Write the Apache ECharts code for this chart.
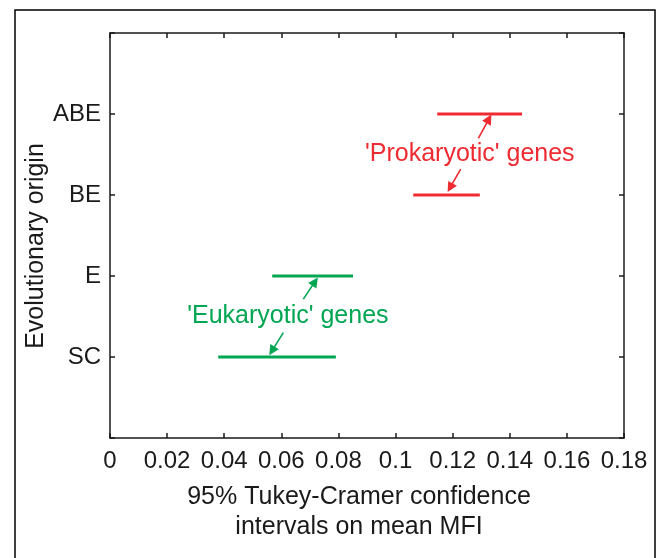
<!DOCTYPE html>
<html>
<head>
<meta charset="utf-8">
<script src="https://cdn.jsdelivr.net/npm/echarts@6/dist/echarts.min.js"></script>
<style>
html,body{margin:0;padding:0;background:#fff;}
#chart{width:657px;height:558px;}
</style>
</head>
<body>
<div id="chart"></div>
<script>
// ---- data ----
const categories = ['SC', 'E', 'BE', 'ABE'];           // y positions 1..4
const lowerCI    = [0.0379, 0.0568, 0.1062, 0.1146];
const upperCI    = [0.0791, 0.0851, 0.1295, 0.1443];
const groupOf    = ['euk', 'euk', 'pro', 'pro'];
const xTickLabels = ['0','0.02','0.04','0.06','0.08','0.1','0.12','0.14','0.16','0.18'];
const annotationText = { pro: "'Prokaryotic' genes", euk: "'Eukaryotic' genes" };
// annotation anchors (data units)
const annotationAt = { pro: [0.1260, 3.51], euk: [0.0623, 1.51] };
// arrows [fromX, fromY, toX, toY] in data units
const arrows = {
  pro: [[0.1290, 3.70, 0.1327, 3.94], [0.1228, 3.32, 0.1191, 3.09]],
  euk: [[0.0677, 1.715, 0.0718, 1.93], [0.0607, 1.30, 0.0567, 1.075]]
};
const xTitle = ['95% Tukey-Cramer confidence', 'intervals on mean MFI'];
const yTitle = 'Evolutionary origin';

const colors = { pro: '#ED2B30', euk: '#00A651' };
const axisColor = '#1a1a1a';
const FONT = '"Liberation Sans", Arial, Helvetica, sans-serif';

const chart = echarts.init(document.getElementById('chart'), null, { renderer: 'canvas' });

const series = categories.map((c, i) => {
  const g = groupOf[i];
  const s = {
    type: 'line',
    name: c,
    data: [[lowerCI[i], i + 1], [upperCI[i], i + 1]],
    showSymbol: false,
    symbol: 'none',
    lineStyle: { color: colors[g], width: 3 },
    itemStyle: { color: colors[g] },
    silent: true,
    z: 3
  };
  if (groupOf.indexOf(g) === i) {
    s.markLine = {
      silent: true,
      symbol: ['none', 'triangle'],
      symbolSize: 10,
      label: { show: false },
      itemStyle: { color: colors[g] },
      lineStyle: { color: colors[g], width: 1.6, type: 'solid' },
      data: arrows[g].map(a => [{ coord: [a[0], a[1]] }, { coord: [a[2], a[3]] }])
    };
  }
  return s;
});

const tickCommon = { show: true, inside: true, length: 5, lineStyle: { color: axisColor, width: 1.5 } };
const lineCommon = { show: true, onZero: false, lineStyle: { color: axisColor, width: 1.5 } };

chart.setOption({
  animation: false,
  backgroundColor: '#fff',
  grid: { left: 110, right: 33, top: 33, bottom: 120, containLabel: false },
  xAxis: [
    {
      type: 'value', min: 0, max: 0.18, interval: 0.02, position: 'bottom',
      axisLine: lineCommon, axisTick: tickCommon, splitLine: { show: false },
      axisLabel: {
        show: true, margin: 11, fontSize: 24, color: axisColor, fontFamily: FONT,
        formatter: v => xTickLabels[Math.round(v / 0.02)]
      }
    },
    {
      type: 'value', min: 0, max: 0.18, interval: 0.02, position: 'top',
      axisLine: lineCommon, axisTick: tickCommon, splitLine: { show: false },
      axisLabel: { show: false }
    }
  ],
  yAxis: [
    {
      type: 'value', min: 0, max: 5, interval: 1, position: 'left',
      axisLine: lineCommon, axisTick: tickCommon, splitLine: { show: false },
      axisLabel: {
        show: true, margin: 9, fontSize: 24, color: axisColor, fontFamily: FONT,
        formatter: v => categories[v - 1] || ''
      }
    },
    {
      type: 'value', min: 0, max: 5, interval: 1, position: 'right',
      axisLine: lineCommon, axisTick: tickCommon, splitLine: { show: false },
      axisLabel: { show: false }
    }
  ],
  series: series
});

const graphics = [];
graphics.push({
  type: 'rect', silent: true, z: 0,
  shape: { x: 15, y: 10, width: 640, height: 700 },
  style: { fill: 'none', stroke: '#000', lineWidth: 1.5 }
});
Object.keys(annotationText).forEach(g => {
  const p = chart.convertToPixel({ xAxisIndex: 0, yAxisIndex: 0 }, annotationAt[g]);
  graphics.push({
    type: 'text', x: p[0], y: p[1], silent: true, z: 10,
    style: { text: annotationText[g], fill: colors[g], font: '25px ' + FONT, align: 'center', verticalAlign: 'middle' }
  });
});
xTitle.forEach((t, k) => {
  graphics.push({
    type: 'text', x: 359, y: 497 + 30 * k, silent: true,
    style: { text: t, fill: axisColor, font: '25px ' + FONT, align: 'center', verticalAlign: 'middle' }
  });
});
graphics.push({
  type: 'text', x: 36, y: 246, rotation: Math.PI / 2, silent: true,
  style: { text: yTitle, fill: axisColor, font: '25px ' + FONT, align: 'center', verticalAlign: 'middle' }
});
chart.setOption({ graphic: graphics });
</script>
</body>
</html>
